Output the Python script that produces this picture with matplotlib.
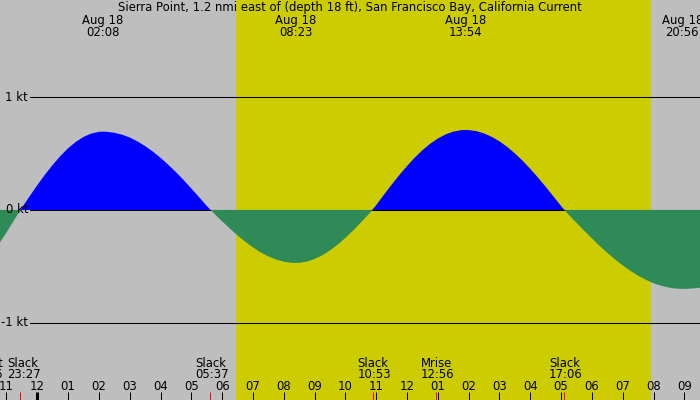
import matplotlib
matplotlib.use("Agg")
import matplotlib.pyplot as plt
import matplotlib.transforms as mtransforms
import numpy as np

# ---------------- data (hours relative to Aug 18 00:00) ----------------
title = "Sierra Point, 1.2 nmi east of (depth 18 ft), San Francisco Bay, California Current"

sample_hours = [-1.5, -1.25, -1.0, -0.75, -0.5, -0.25, 0.0, 0.25, 0.5, 0.75, 1.0, 1.25,
                1.5, 1.75, 2.0, 2.133, 2.25, 2.5, 2.75, 3.0, 3.25, 3.5, 3.75, 4.0, 4.25,
                4.5, 4.75, 5.0, 5.25, 5.5, 5.75, 6.0, 6.25, 6.5, 6.75, 7.0, 7.25, 7.5,
                7.75, 8.0, 8.25, 8.383, 8.5, 8.75, 9.0, 9.25, 9.5, 9.75, 10.0, 10.25,
                10.5, 10.75, 11.0, 11.25, 11.5, 11.75, 12.0, 12.25, 12.5, 12.75, 13.0,
                13.25, 13.5, 13.75, 13.9, 14.0, 14.25, 14.5, 14.75, 15.0, 15.25, 15.5,
                15.75, 16.0, 16.25, 16.5, 16.75, 17.0, 17.25, 17.5, 17.75, 18.0, 18.25,
                18.5, 18.75, 19.0, 19.25, 19.5, 19.75, 20.0, 20.25, 20.5, 20.75, 20.933,
                21.0, 21.25, 21.5, 22.0]
speed_kt = [-0.40, -0.303, -0.20, -0.089, 0.02, 0.121, 0.22, 0.314, 0.40, 0.479, 0.548,
            0.604, 0.648, 0.678, 0.693, 0.695, 0.694, 0.685, 0.668, 0.643, 0.609, 0.567,
            0.518, 0.463, 0.401, 0.336, 0.265, 0.19, 0.114, 0.036, -0.035, -0.101,
            -0.165, -0.226, -0.282, -0.332, -0.376, -0.412, -0.44, -0.459, -0.469,
            -0.47, -0.469, -0.458, -0.435, -0.402, -0.359, -0.307, -0.248, -0.182,
            -0.112, -0.039, 0.043, 0.135, 0.224, 0.31, 0.39, 0.464, 0.53, 0.587, 0.634,
            0.67, 0.695, 0.708, 0.71, 0.709, 0.70, 0.679, 0.649, 0.609, 0.56, 0.502,
            0.437, 0.365, 0.288, 0.206, 0.121, 0.035, -0.043, -0.114, -0.184, -0.252,
            -0.318, -0.38, -0.438, -0.492, -0.54, -0.583, -0.619, -0.65, -0.673, -0.689,
            -0.698, -0.70, -0.70, -0.697, -0.69, -0.66]

sunrise_h = 6.45
sunset_h = 19.93

max_hours = [2.133, 8.383, 13.9, 20.933]
max_dates = ["Aug 18", "Aug 18", "Aug 18", "Aug 18"]
max_times = ["02:08", "08:23", "13:54", "20:56"]

event_hours = [-1.4, -0.55, 5.617, 10.883, 12.933, 17.1]
event_names = ["Mset", "Slack", "Slack", "Slack", "Mrise", "Slack"]
event_times = ["22:36", "23:27", "05:37", "10:53", "12:56", "17:06"]

hour_ticks = list(range(-1, 22))
hour_labels = ["11", "12", "01", "02", "03", "04", "05", "06", "07", "08", "09", "10",
               "11", "12", "01", "02", "03", "04", "05", "06", "07", "08", "09"]

ref_levels = [1, 0, -1]
ref_labels = ["1 kt", "0 kt", "-1 kt"]

# ---------------- figure ----------------
W, H = 700, 400
FS = 8.35
PX = 0.72  # points per pixel at dpi 100
plt.rcParams["font.family"] = ["DejaVu Sans"]
fig = plt.figure(figsize=(7, 4), dpi=100)
ax = fig.add_axes([0, 0, 1, 1])
ax.set_facecolor("#BEBEBE")
for s in ax.spines.values():
    s.set_visible(False)
ax.set_yticks([])

ax.axvspan(sunrise_h, sunset_h, color="#CCCC00", lw=0, zorder=0)

t = np.array(sample_hours)
v = np.array(speed_kt)
ax.fill_between(t, v, 0, where=v >= 0, interpolate=True, color="#0000FF", lw=0, zorder=2)
ax.fill_between(t, v, 0, where=v <= 0, interpolate=True, color="#2E8B57", lw=0, zorder=4)

lab_tr = mtransforms.blended_transform_factory(ax.transAxes, ax.transData)
for lev, lab in zip(ref_levels, ref_labels):
    ax.axhline(lev, xmin=30 / W, xmax=1, color="black", lw=0.75, zorder=3)
    ax.text(28 / W, lev, lab, transform=lab_tr, ha="right", va="center",
            fontsize=FS, color="black", zorder=6)

xtr = ax.get_xaxis_transform()


def yfrac(px):
    return 1 - px / H


ax.text(0.5, yfrac(10.7), title, transform=ax.transAxes, ha="center",
        va="baseline", fontsize=FS, zorder=6)

for h, d, tm in zip(max_hours, max_dates, max_times):
    ax.text(h, yfrac(24), d, transform=xtr, ha="center", va="baseline", fontsize=FS, zorder=6)
    ax.text(h, yfrac(36), tm, transform=xtr, ha="center", va="baseline", fontsize=FS, zorder=6)

# event labels: left-aligned slightly left of the event; the first two are pushed apart
for i, (h, n, tm) in enumerate(zip(event_hours, event_names, event_times)):
    if i == 0:
        ha, dx1, dx2 = "right", 9.8, 8.8
    elif i == 1:
        ha, dx1, dx2 = "left", -13.5, -13.5
    else:
        ha, dx1, dx2 = "left", -15.3, -15.3
    off1 = mtransforms.offset_copy(xtr, fig=fig, x=dx1 * PX, units="points")
    off2 = mtransforms.offset_copy(xtr, fig=fig, x=dx2 * PX, units="points")
    ax.text(h, yfrac(366.7), n, transform=off1, ha=ha, va="baseline", fontsize=FS, zorder=6)
    ax.text(h, yfrac(377.7), tm, transform=off2, ha=ha, va="baseline", fontsize=FS, zorder=6)

ax.set_xticks(hour_ticks, labels=hour_labels)
ax.tick_params(axis="x", which="major", direction="in", length=8 * PX, width=PX,
               pad=-7.4, labelsize=FS, color="black")
for lbl in ax.get_xticklabels():
    lbl.set_va("baseline")
ax.xaxis.get_major_ticks()[1].tick1line.set_markeredgewidth(3 * PX)

ax.set_xticks(event_hours, minor=True)
ax.tick_params(axis="x", which="minor", direction="in", length=8 * PX, width=PX,
               color="red")

# set limits last so that tick setting cannot widen them
ax.set_xlim(-1.2107, 21.509)
ax.set_ylim(-1.686, 1.863)

fig.savefig("out.png", dpi=100)
